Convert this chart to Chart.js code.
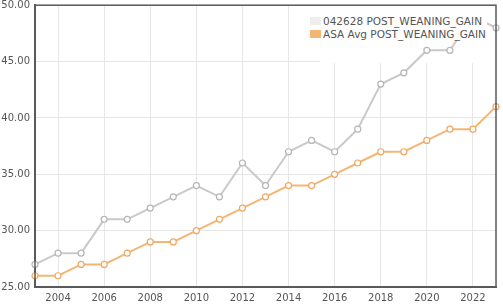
<!DOCTYPE html>
<html>
<head>
<meta charset="utf-8">
<script src="https://cdn.jsdelivr.net/npm/chart.js@4.4.1/dist/chart.umd.min.js"></script>
<style>
    html, body { margin: 0; padding: 0; background: #fff; }
    #wrap { position: relative; width: 503px; height: 305px; }
    #legend {
        position: absolute; left: 310px; top: 12px;
        padding: 3px 1px 1px 0;
        font: 10.5px "DejaVu Sans", Verdana, sans-serif; color: #555;
        background: #fff; line-height: 12.5px;
    }
    #legend .item { display: flex; align-items: center; white-space: nowrap; }
    #legend .box { width: 11px; height: 8px; margin-right: 2px; }
</style>
</head>
<body>
<div id="wrap">
    <canvas id="chart" width="503" height="305"></canvas>
    <div id="legend"></div>
</div>
<script>
// years on the x axis
const years = [2003, 2004, 2005, 2006, 2007, 2008, 2009, 2010, 2011, 2012,
               2013, 2014, 2015, 2016, 2017, 2018, 2019, 2020, 2021, 2022, 2023];
// 042628 POST_WEANING_GAIN
const animalGain = [27, 28, 28, 31, 31, 32, 33, 34, 33, 36,
                    34, 37, 38, 37, 39, 43, 44, 46, 46, 49, 48];
// ASA Avg POST_WEANING_GAIN
const avgGain = [26, 26, 27, 27, 28, 29, 29, 30, 31, 32,
                 33, 34, 34, 35, 36, 37, 37, 38, 39, 39, 41];
const seriesLabels = ['042628 POST_WEANING_GAIN', 'ASA Avg POST_WEANING_GAIN'];
const yTicks = [25, 30, 35, 40, 45, 50];

const gridColor = '#e6e6e6';
const frameColor = '#5a5a5a';

// white patch behind the legend (covers grid, sits under the lines) + frame round the plot
const framePlugin = {
    id: 'frame',
    beforeDatasetsDraw(chart) {
        const { ctx, chartArea: a } = chart;
        ctx.save();
        ctx.fillStyle = '#fff';
        ctx.fillRect(a.right - 176, a.top, 176, 58);
        ctx.restore();
    },
    afterDraw(chart) {
        const { ctx, chartArea: a } = chart;
        ctx.save();
        ctx.strokeStyle = frameColor;
        ctx.lineWidth = 1.5;
        ctx.strokeRect(a.left, a.top, a.right - a.left, a.bottom - a.top);
        ctx.restore();
    }
};

const chart = new Chart(document.getElementById('chart'), {
    type: 'line',
    data: {
        labels: years,
        datasets: [{
            label: seriesLabels[0],
            data: animalGain,
            borderColor: '#c9c9c9',
            backgroundColor: '#eeeeee',
            borderWidth: 2,
            pointRadius: 3,
            pointBackgroundColor: '#fff',
            pointBorderColor: '#b5b5b5',
            pointBorderWidth: 1.2,
            tension: 0
        }, {
            label: seriesLabels[1],
            data: avgGain,
            borderColor: '#f5b675',
            backgroundColor: '#f5b675',
            borderWidth: 2,
            pointRadius: 3,
            pointBackgroundColor: '#fff',
            pointBorderColor: '#f0a860',
            pointBorderWidth: 1.2,
            tension: 0
        }]
    },
    options: {
        responsive: false,
        animation: false,
        layout: { padding: { top: 0, right: 7, left: 0, bottom: 0 } },
        plugins: {
            legend: { display: false },
            tooltip: { enabled: false }
        },
        scales: {
            x: {
                type: 'category',
                offset: false,
                afterFit: (s) => { s.height = 18; },
                border: { display: true, color: frameColor, width: 2 },
                grid: {
                    color: (c) => (years[c.index] % 2 === 0 ? gridColor : 'rgba(0,0,0,0)'),
                    drawTicks: false
                },
                ticks: {
                    autoSkip: false,
                    maxRotation: 0,
                    padding: 5,
                    color: '#555',
                    font: { family: '"DejaVu Sans", Verdana, sans-serif', size: 10 },
                    callback: (v, i) => (years[i] % 2 === 0 ? String(years[i]) : '')
                }
            },
            y: {
                min: yTicks[0],
                max: yTicks[yTicks.length - 1],
                afterFit: (s) => { s.width = 35; s.paddingTop = 5; s.paddingBottom = 0; },
                afterBuildTicks: (s) => { s.ticks = yTicks.map(v => ({ value: v })); },
                border: { display: true, color: frameColor, width: 2 },
                grid: { color: gridColor, drawTicks: false },
                ticks: {
                    padding: 5,
                    color: '#555',
                    font: { family: '"DejaVu Sans", Verdana, sans-serif', size: 10 },
                    callback: (v) => Number(v).toFixed(2)
                }
            }
        }
    },
    plugins: [framePlugin]
});

// custom HTML legend built from the datasets
const legendEl = document.getElementById('legend');
chart.data.datasets.forEach(ds => {
    const row = document.createElement('div');
    row.className = 'item';
    const box = document.createElement('span');
    box.className = 'box';
    box.style.background = ds.backgroundColor;
    const txt = document.createElement('span');
    txt.textContent = ds.label;
    row.appendChild(box);
    row.appendChild(txt);
    legendEl.appendChild(row);
});
</script>
</body>
</html>
